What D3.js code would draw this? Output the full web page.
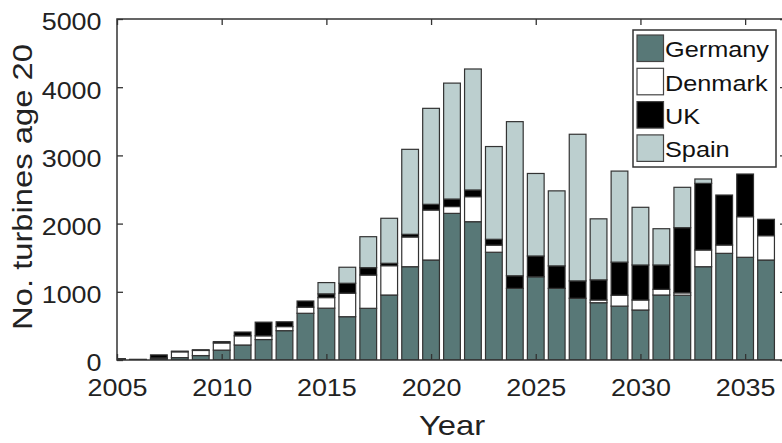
<!DOCTYPE html>
<html>
<head>
<meta charset="utf-8">
<script src="https://cdn.jsdelivr.net/npm/d3@7"></script>
<style>
  html, body { margin: 0; padding: 0; background: #fff; }
  svg { display: block; font-family: "Liberation Sans", Arial, Helvetica, sans-serif; }
</style>
</head>
<body>
<svg id="chart" width="782" height="443"></svg>
<script>
const years = d3.range(2005, 2037);
const series = ["Germany", "Denmark", "UK", "Spain"];
const germany = [10, 5, 20, 35, 65, 145, 220, 300, 430, 685, 760, 635, 758, 953, 1368, 1466,
  2150, 2028, 1580, 1050, 1220, 1050, 905, 840, 790, 733, 953, 950, 1368, 1564, 1506, 1466];
const denmark = [0, 0, 10, 85, 75, 105, 135, 55, 60, 90, 155, 345, 488, 430, 436, 733,
  100, 367, 105, 0, 0, 0, 0, 40, 160, 147, 83, 35, 245, 122, 595, 357];
const uk = [10, 5, 45, 10, 10, 20, 55, 200, 70, 90, 55, 145, 108, 35, 39, 84,
  110, 98, 85, 185, 305, 330, 255, 295, 485, 513, 357, 955, 977, 733, 626, 240];
const spain = [0, 0, 0, 0, 0, 0, 0, 0, 0, 0, 165, 235, 454, 660, 1246, 1407,
  1700, 1774, 1360, 2260, 1210, 1100, 2150, 895, 1335, 846, 532, 592, 64, 0, 0, 0];
const yTicks = [0, 1000, 2000, 3000, 4000, 5000];
const xTicks = [2005, 2010, 2015, 2020, 2025, 2030, 2035];

const COLORS = { Germany: "#587877", Denmark: "#ffffff", UK: "#000000", Spain: "#bccfcf" };
const SX = 1.17; // the original font is wider than Arial

const rows = years.map((year, i) => ({
  year, Germany: germany[i], Denmark: denmark[i], UK: uk[i], Spain: spain[i]
}));

const svg = d3.select("#chart");
const plot = { left: 117, right: 787, top: 19, bottom: 360 };

const x = d3.scaleLinear().domain([2005, 2037]).range([plot.left, plot.right]);
const y = d3.scaleLinear().domain([0, 5000]).range([plot.bottom, plot.top]);
const barW = 0.8 * (x(2006) - x(2005));

svg.append("defs").append("clipPath").attr("id", "plot-clip")
  .append("rect")
  .attr("x", plot.left).attr("y", plot.top)
  .attr("width", plot.right - plot.left).attr("height", plot.bottom - plot.top);

const stack = d3.stack().keys(series)(rows);

// Bars
const bars = svg.append("g").attr("clip-path", "url(#plot-clip)");
bars.selectAll(".layer")
  .data(stack)
  .join("g")
  .attr("class", "layer")
  .attr("fill", (d) => COLORS[d.key])
  .selectAll("rect")
  .data((d) => d.filter((p) => p[1] > p[0]))
  .join("rect")
  .attr("x", (d) => x(d.data.year) - barW / 2)
  .attr("width", barW)
  .attr("y", (d) => y(d[1]))
  .attr("height", (d) => y(d[0]) - y(d[1]))
  .attr("stroke", "#333")
  .attr("stroke-width", 1.2);

// Axes (ticks point inward, like the original)
const axisColor = "#333";
const styleAxis = (g) => {
  g.select(".domain").remove();
  g.selectAll("line").attr("stroke", axisColor).attr("stroke-width", 1.3);
  g.selectAll("text").attr("fill", "#222").attr("font-size", 23);
};

svg.append("g")
  .attr("transform", `translate(0,${plot.bottom})`)
  .call(d3.axisBottom(x).tickValues(xTicks).tickSize(-6).tickFormat(d3.format("d")))
  .call(styleAxis)
  .selectAll("text")
  .attr("y", 36).attr("dy", null)
  .attr("transform", `scale(${SX},1)`);

svg.append("g")
  .attr("transform", `translate(0,${plot.top})`)
  .call(d3.axisTop(x).tickValues(xTicks).tickSize(-6).tickFormat(""))
  .call(styleAxis);

svg.append("g")
  .attr("transform", `translate(${plot.left},0)`)
  .call(d3.axisLeft(y).tickValues(yTicks).tickSize(-6).tickFormat(d3.format("d")))
  .call(styleAxis)
  .selectAll("text")
  .attr("x", -15.5 / SX).attr("y", 10.8).attr("dy", null)
  .attr("transform", `scale(${SX},1)`);

svg.append("g")
  .attr("transform", `translate(${plot.right},0)`)
  .call(d3.axisRight(y).tickValues(yTicks).tickSize(-7).tickFormat(""))
  .call(styleAxis);

svg.append("rect")
  .attr("x", plot.left).attr("y", plot.top)
  .attr("width", plot.right - plot.left).attr("height", plot.bottom - plot.top)
  .attr("fill", "none").attr("stroke", axisColor).attr("stroke-width", 1.5);

// Axis titles
svg.append("text")
  .attr("transform", `translate(${(plot.left + plot.right) / 2},435) scale(${SX},1)`)
  .attr("text-anchor", "middle")
  .attr("font-size", 28)
  .attr("fill", "#222")
  .text("Year");

svg.append("text")
  .attr("transform", `translate(31.5,187) rotate(-90) scale(${SX},1)`)
  .attr("text-anchor", "middle")
  .attr("font-size", 28)
  .attr("fill", "#222")
  .text("No. turbines age 20");

// Legend
const legend = svg.append("g").attr("transform", "translate(633,30)");
legend.append("rect")
  .attr("width", 143).attr("height", 137)
  .attr("fill", "#fff").attr("stroke", axisColor).attr("stroke-width", 1.5);

const item = legend.selectAll(".item")
  .data(series)
  .join("g")
  .attr("class", "item")
  .attr("transform", (_d, i) => `translate(4,${5 + i * 33.3})`);
item.append("rect")
  .attr("width", 26.5).attr("height", 26.5)
  .attr("fill", (d) => COLORS[d])
  .attr("stroke", "#444").attr("stroke-width", 1.2);
item.append("text")
  .attr("transform", `translate(28,22.3) scale(${SX - 0.02},1)`)
  .attr("font-size", 22)
  .attr("fill", "#111")
  .text((d) => d);
</script>
</body>
</html>
